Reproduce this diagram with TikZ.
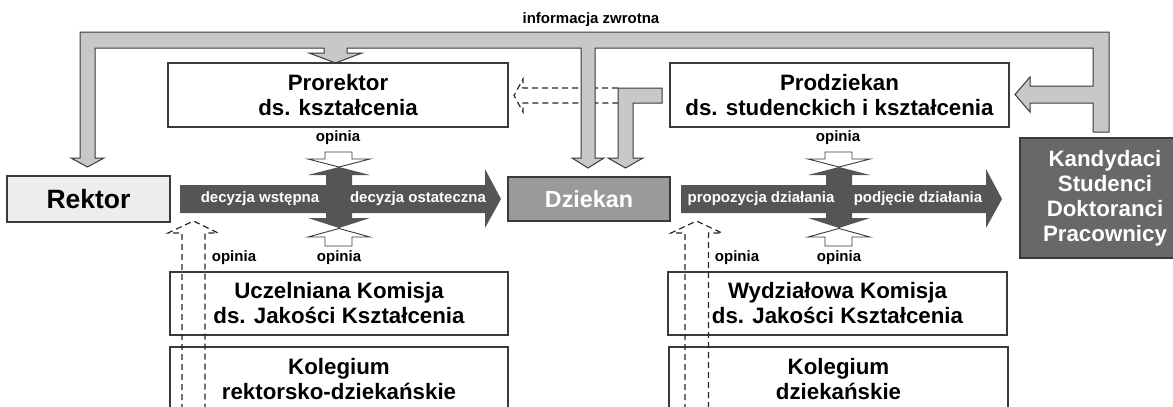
\documentclass[tikz,border=0pt]{standalone}
\usepackage{fontspec}
\setmainfont{Liberation Sans}
\definecolor{fbgray}{HTML}{C8C8C8}
\definecolor{edgec}{HTML}{3A3A3A}
\definecolor{darkarrow}{HTML}{555555}
\definecolor{dziekgray}{HTML}{9A9A9A}
\definecolor{kandgray}{HTML}{686868}
\definecolor{rektorgray}{HTML}{EDEDED}
\newcommand{\fbig}{\fontsize{22.3}{25}\selectfont\bfseries}
\newcommand{\fsmall}{\fontsize{15}{17}\selectfont\bfseries}
\begin{document}
\begin{tikzpicture}[x=1pt,y=-1pt,
  box/.style={draw=edgec, line width=1.6pt, fill=white, inner sep=0pt, align=center, font=\fbig},
  lbl/.style={inner sep=0pt, font=\fsmall, text=black},
  wlbl/.style={inner sep=0pt, font=\fsmall, text=white},
  fbarrow/.style={fill=fbgray, draw=edgec, line width=1pt, line join=miter},
  darkshape/.style={fill=darkarrow, draw=none},
  openarrow/.style={fill=white, draw=edgec, line width=0.9pt},
  dasharrow/.style={draw=black!85, line width=1.2pt, dash pattern=on 6pt off 4pt}]
\useasboundingbox (0,0) rectangle (1173,407);
\begin{scope}
\clip (0,0) rectangle (1173,407);

% dashed arrow towards Prorektor
\draw[dasharrow] (618,88) -- (523,88) -- (523,79) -- (514,95.5) -- (523,112) -- (523,103) -- (618,103);

% feedback band (grey block arrows)
\draw[fbarrow] (80,32) -- (1109,32) -- (1109,132) -- (1093,132) -- (1093,103) -- (1030,103) -- (1030,112) -- (1015,94.5) -- (1030,77) -- (1030,86) -- (1093,86) -- (1093,48)
  -- (595,48) -- (595,158) -- (604,158) -- (588,168) -- (572,158) -- (581,158) -- (581,48)
  -- (347,48) -- (347,53) -- (362,53) -- (335.5,63) -- (309,53) -- (324,53) -- (324,48)
  -- (95,48) -- (95,158) -- (104,158) -- (87.5,167) -- (71,158) -- (80,158) -- cycle;
% L-shaped arrow from Prodziekan to Dziekan
\draw[fbarrow] (662,88) -- (662,103) -- (633,103) -- (633,158) -- (643,158) -- (625.5,168) -- (608,158) -- (618,158) -- (618,88) -- cycle;

\node[lbl] (info) at (591,20) {informacja zwrotna};

% boxes
\node[box, minimum width=340pt, minimum height=64pt] (prorektor) at (338,95) {Prorektor\\ds. kształcenia};
\node[box, minimum width=339pt, minimum height=64pt] (prodziekan) at (839.5,95) {Prodziekan\\ds. studenckich i kształcenia};
\node[box, fill=rektorgray, minimum width=163pt, minimum height=46pt, font=\fontsize{26.5}{30}\selectfont\bfseries] (rektor) at (88.5,199) {Rektor};
\node[box, fill=dziekgray, text=white, minimum width=162pt, minimum height=44pt, font=\fontsize{23.3}{26}\selectfont\bfseries] (dziekan) at (589,199) {Dziekan};
\node[box, fill=kandgray, text=white, minimum width=170pt, minimum height=120pt] (kand) at (1105,198) {Kandydaci\\Studenci\\Doktoranci\\Pracownicy};
\node[box, minimum width=338pt, minimum height=63pt] (ukjk) at (339,303.5) {Uczelniana Komisja\\ds. Jakości Kształcenia};
\node[box, minimum width=338pt, minimum height=65pt] (krd) at (339,379.5) {Kolegium\\rektorsko-dziekańskie};
\node[box, minimum width=339pt, minimum height=63pt] (wkjk) at (837.5,303.5) {Wydziałowa Komisja\\ds. Jakości Kształcenia};
\node[box, minimum width=339pt, minimum height=65pt] (kd) at (838.5,379.5) {Kolegium\\dziekańskie};

% left decision cross
\fill[darkshape] (180,185) -- (485,185) -- (485,169) -- (501,199) -- (485,228) -- (485,213) -- (180,213) -- cycle;
\fill[darkshape] (326,175) -- (308,175) -- (339,167) -- (370,175) -- (352,175) -- (352,218) -- (370,218) -- (339,228) -- (308,218) -- (326,218) -- cycle;
\draw[openarrow] (325,152) -- (352,152) -- (352,159) -- (370,159) -- (339,167) -- (308,159) -- (325,159) -- cycle;
\draw[openarrow] (325,246) -- (352,246) -- (352,237) -- (370,237) -- (339,228.5) -- (308,237) -- (325,237) -- cycle;
\node[wlbl] (dw) at (260,199) {decyzja wstępna};
\node[wlbl] (dos) at (418,199) {decyzja ostateczna};

% right decision cross
\fill[darkshape] (681,185) -- (986,185) -- (986,169) -- (1002,199) -- (986,228) -- (986,213) -- (681,213) -- cycle;
\fill[darkshape] (826,175) -- (808,175) -- (839,167) -- (870,175) -- (852,175) -- (852,218) -- (870,218) -- (839,228) -- (808,218) -- (826,218) -- cycle;
\draw[openarrow] (825,152) -- (852,152) -- (852,159) -- (870,159) -- (839,167) -- (808,159) -- (825,159) -- cycle;
\draw[openarrow] (825,246) -- (852,246) -- (852,237) -- (870,237) -- (839,228.5) -- (808,237) -- (825,237) -- cycle;
\node[wlbl] (pd) at (761,199) {propozycja działania};
\node[wlbl] (pdz) at (918,199) {podjęcie działania};

% opinia labels
\node[lbl] (op1) at (338,138) {opinia};
\node[lbl] (op2) at (339,258) {opinia};
\node[lbl] (op3) at (234,258) {opinia};
\node[lbl] (op4) at (838,138) {opinia};
\node[lbl] (op5) at (839,258) {opinia};
\node[lbl] (op6) at (737,258) {opinia};

% dashed upward arrows from the councils
\draw[dasharrow] (182,410) -- (182,233) -- (168,233) -- (193.5,221) -- (218,233) -- (205,233) -- (205,410);
\draw[dasharrow] (685,410) -- (685,233) -- (671,233) -- (696.5,221) -- (722,233) -- (708.5,233) -- (708.5,410);
\end{scope}
\end{tikzpicture}
\end{document}
